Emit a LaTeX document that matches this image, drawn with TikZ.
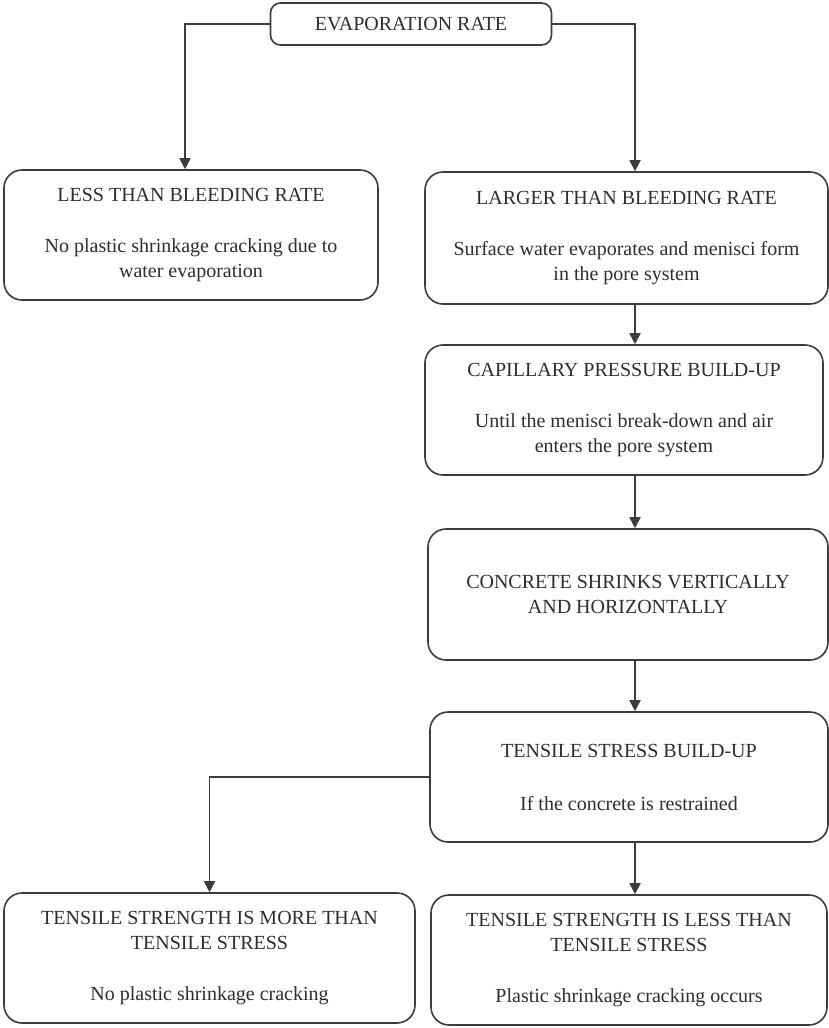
\documentclass[tikz,border=0pt]{standalone}
\usepackage{fontspec}
\setmainfont{Liberation Serif}
\usetikzlibrary{arrows.meta}
\definecolor{lc}{RGB}{60,60,60}
\definecolor{tc}{RGB}{45,45,50}
\tikzset{
  box/.style={draw=lc, line width=1.6pt, rounded corners=18pt, inner sep=0pt,
    align=center, font=\fontsize{20}{25}\selectfont, text=tc},
  arr/.style={draw=lc, line width=1.8pt, -{Triangle[width=11pt,length=11pt]}}
}
\begin{document}
\begin{tikzpicture}[x=1pt,y=-1pt]
\useasboundingbox (0,0) rectangle (829,1028);
\node[box, minimum width=281pt, minimum height=42pt, rounded corners=10pt] (top) at (411,24) {EVAPORATION RATE};
\node[box, minimum width=374pt, minimum height=130pt] (left1) at (191,235)
  {LESS THAN BLEEDING RATE\\[26pt]No plastic shrinkage cracking due to\\water evaporation};
\node[box, minimum width=403pt, minimum height=132pt] (right1) at (626.5,238)
  {LARGER THAN BLEEDING RATE\\[26pt]Surface water evaporates and menisci form\\in the pore system};
\node[box, minimum width=398pt, minimum height=130pt] (cap) at (624,410)
  {CAPILLARY PRESSURE BUILD-UP\\[26pt]Until the menisci break-down and air\\enters the pore system};
\node[box, minimum width=400pt, minimum height=131pt] (conc) at (628,594.5)
  {CONCRETE SHRINKS VERTICALLY\\AND HORIZONTALLY};
\node[box, minimum width=398pt, minimum height=130pt] (tens) at (629,777)
  {TENSILE STRESS BUILD-UP\\[28pt]If the concrete is restrained};
\node[box, minimum width=411pt, minimum height=130pt] (bl) at (209.5,958)
  {TENSILE STRENGTH IS MORE THAN\\TENSILE STRESS\\[26pt]No plastic shrinkage cracking};
\node[box, minimum width=396pt, minimum height=130pt] (br) at (629,960)
  {TENSILE STRENGTH IS LESS THAN\\TENSILE STRESS\\[26pt]Plastic shrinkage cracking occurs};
\coordinate (colL) at (185,0);
\coordinate (colR) at (635,0);
\draw[arr] (top.west) -| (left1.north -| colL);
\draw[arr] (top.east) -| (right1.north -| colR);
\draw[arr] (right1.south -| colR) -- (cap.north -| colR);
\draw[arr] (cap.south -| colR) -- (conc.north -| colR);
\draw[arr] (conc.south -| colR) -- (tens.north -| colR);
\draw[arr] (tens.west) -| (bl.north);
\draw[arr] (tens.south -| colR) -- (br.north -| colR);
\end{tikzpicture}
\end{document}
